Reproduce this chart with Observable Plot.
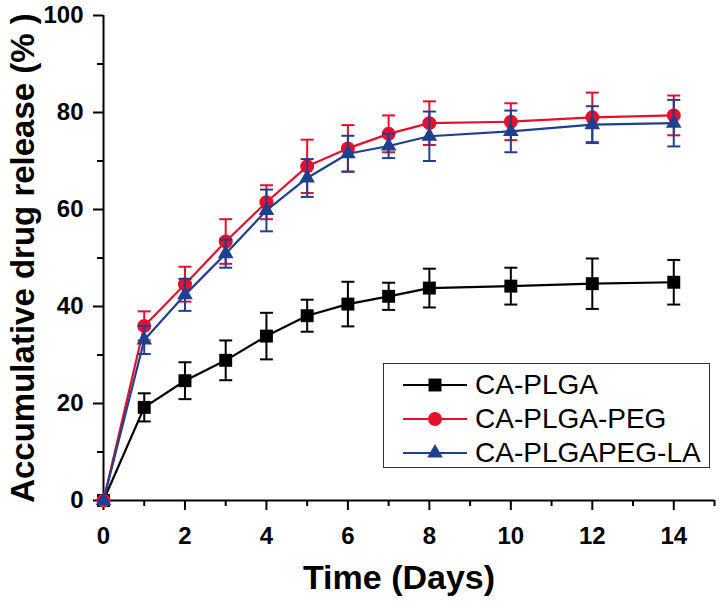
<!DOCTYPE html>
<html>
<head>
<meta charset="utf-8">
<script src="https://cdn.jsdelivr.net/npm/d3@7"></script>
<script src="https://cdn.jsdelivr.net/npm/@observablehq/plot@0.6"></script>
<style>
  html, body { margin: 0; padding: 0; background: #fff; }
  #wrap { position: relative; width: 720px; height: 602px; }
  #legend { position: absolute; left: 383px; top: 363px; width: 327px; height: 105px;
    box-sizing: border-box; border: 1.5px solid #333; background: #fff; }
  .row { position: absolute; left: 0; height: 34px; display: flex; align-items: center; }
  .row svg { margin-left: 18px; }
  .row span { margin-left: 7px; font: 28px "Liberation Sans", Arial, sans-serif; color: #000; }
</style>
</head>
<body>
<div id="wrap"></div>
<script>
// ---- data ----
const days = [0, 1, 2, 3, 4, 5, 6, 7, 8, 10, 12, 14];
const seriesNames = ["CA-PLGA", "CA-PLGA-PEG", "CA-PLGAPEG-LA"];
const plga      = [0, 19.2, 24.7, 28.9, 33.9, 38.1, 40.5, 42.1, 43.8, 44.2, 44.7, 45.0];
const plgaErr   = [0, 2.9, 3.8, 4.1, 4.8, 3.3, 4.6, 2.8, 4.0, 3.8, 5.2, 4.6];
const peg       = [0, 36.0, 44.6, 53.4, 61.5, 68.9, 72.6, 75.6, 77.8, 78.1, 79.0, 79.4];
const pegErr    = [0, 3.0, 3.6, 4.6, 3.5, 5.5, 4.8, 3.8, 4.5, 3.8, 5.1, 4.1];
const pegla     = [0, 33.1, 42.4, 50.9, 59.8, 66.5, 71.5, 73.1, 75.1, 76.1, 77.5, 77.8];
const peglaErr  = [0, 2.9, 3.3, 2.9, 4.3, 3.9, 3.7, 2.5, 5.1, 4.3, 3.8, 4.8];
const xMajorTicks = [0, 2, 4, 6, 8, 10, 12, 14];
const xMinorTicks = [1, 3, 5, 7, 9, 11, 13, 15];
const yMajorTicks = [0, 20, 40, 60, 80, 100];
const yMinorTicks = [10, 30, 50, 70, 90];
const xTitle = "Time (Days)";
const yTitle = "Accumulative drug release (% )";

const colors = ["#000000", "#e3102e", "#1f3f8f"];
const symbols = ["square", "circle", "triangle"];
const radii = [7.3, 7, 5.8];

const valueSets = [plga, peg, pegla];
const errSets = [plgaErr, pegErr, peglaErr];
const table = seriesNames.map((name, s) =>
  days.map((d, i) => ({series: name, day: d, value: valueSets[s][i], err: errSets[s][i]})));

// horizontal cap symbol for error bars
const capSymbol = {
  draw(context, size) {
    const w = Math.sqrt(size / Math.PI);
    context.moveTo(-w, 0);
    context.lineTo(w, 0);
  }
};

const marks = [];
// axes
marks.push(Plot.axisX(xMinorTicks, {tickSize: 6, strokeWidth: 2, tickFormat: () => "", label: null}));
marks.push(Plot.axisX(xMajorTicks, {tickSize: 10, strokeWidth: 2, tickPadding: 16, fontSize: 24, fontWeight: "bold", label: null}));
marks.push(Plot.axisY(yMinorTicks, {tickSize: 6, strokeWidth: 2, tickFormat: () => "", label: null}));
marks.push(Plot.axisY(yMajorTicks, {tickSize: 10, strokeWidth: 2, tickPadding: 10, fontSize: 24, fontWeight: "bold", label: null}));
marks.push(Plot.ruleY([0], {stroke: "#000", strokeWidth: 2}));
marks.push(Plot.ruleX([0], {stroke: "#000", strokeWidth: 2}));

table.forEach((rows, s) => {
  const c = colors[s];
  marks.push(Plot.line(rows, {x: "day", y: "value", stroke: c, strokeWidth: 2.2}));
  marks.push(Plot.dot(rows, {x: "day", y: "value", symbol: symbols[s], r: radii[s], fill: c, stroke: "none"}));
  const eb = rows.filter(r => r.err > 0);
  marks.push(Plot.ruleX(eb, {x: "day", y1: r => r.value - r.err, y2: r => r.value + r.err, stroke: c, strokeWidth: 2}));
  marks.push(Plot.dot(eb, {x: "day", y: r => r.value + r.err, symbol: capSymbol, r: 6.5, stroke: c, strokeWidth: 2, fill: "none"}));
  marks.push(Plot.dot(eb, {x: "day", y: r => r.value - r.err, symbol: capSymbol, r: 6.5, stroke: c, strokeWidth: 2, fill: "none"}));
});

// titles
marks.push(Plot.text([xTitle], {frameAnchor: "bottom", dy: 78, dx: -10, lineAnchor: "middle", textAnchor: "middle", fontSize: 34, fontWeight: "bold", fill: "#000"}));
marks.push(Plot.text([yTitle], {frameAnchor: "left", dx: -80, rotate: -90, lineAnchor: "middle", textAnchor: "middle", fontSize: 33, fontWeight: "bold", fill: "#000"}));

const chart = Plot.plot({
  width: 720,
  height: 602,
  marginLeft: 103,
  marginRight: 6,
  marginTop: 15,
  marginBottom: 102,
  x: {domain: [0, 15]},
  y: {domain: [0, 100]},
  style: {fontFamily: "'Liberation Sans', Arial, sans-serif", color: "#000", background: "#fff", overflow: "visible"},
  marks
});
document.getElementById("wrap").appendChild(chart);

// legend (HTML overlay inside the plot area)
const legend = document.createElement("div");
legend.id = "legend";
const rowTops = [4, 38, 72];
seriesNames.forEach((name, s) => {
  const row = document.createElement("div");
  row.className = "row";
  row.style.top = rowTops[s] + "px";
  const svg = d3.create("svg").attr("width", 66).attr("height", 20);
  svg.append("line").attr("x1", 1).attr("x2", 65).attr("y1", 10).attr("y2", 10)
    .attr("stroke", colors[s]).attr("stroke-width", 2);
  const sym = {square: d3.symbolSquare, circle: d3.symbolCircle, triangle: d3.symbolTriangle}[symbols[s]];
  svg.append("path").attr("transform", "translate(33,10)")
    .attr("d", d3.symbol(sym, Math.PI * radii[s] * radii[s])())
    .attr("fill", colors[s]);
  row.appendChild(svg.node());
  const label = document.createElement("span");
  label.textContent = name;
  row.appendChild(label);
  legend.appendChild(row);
});
document.getElementById("wrap").appendChild(legend);
</script>
</body>
</html>
